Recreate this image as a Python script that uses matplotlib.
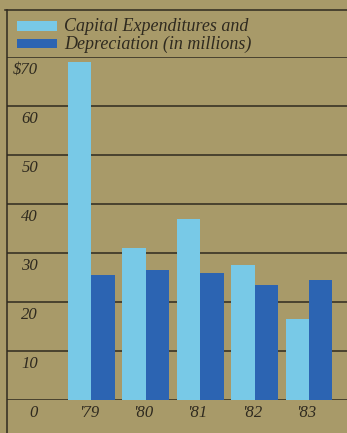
import matplotlib
matplotlib.use("Agg")
import matplotlib.pyplot as plt
from matplotlib.lines import Line2D
from matplotlib.patches import Rectangle

years = ["'79", "'80", "'81", "'82", "'83"]
capital_expenditures = [69, 31, 37, 27.5, 16.5]
depreciation = [25.5, 26.5, 26, 23.5, 24.5]
y_ticks = [0, 10, 20, 30, 40, 50, 60, 70]
y_labels = ["0", "10", "20", "30", "40", "50", "60", "$70"]
legend_labels = ["Capital Expenditures and", "Depreciation (in millions)"]

BG = "#a89a69"
LIGHT = "#78c9e7"
DARK = "#2c64b2"
INK = "#2f2a1f"
W, H = 347, 433

fig = plt.figure(figsize=(W / 100, H / 100), dpi=100, facecolor=BG)

def fx(px):
    return px / W

def fy(py):
    return 1 - py / H

# Plot area: left rule at x=7 px, zero line at y=400 px, $70 line at y=57 px
ax = fig.add_axes([fx(7), fy(400), fx(W - 7), fy(57) - fy(400)])
ax.set_facecolor(BG)
ax.set_ylim(0, 70)
ax.set_xlim(-1.553, 4.70)
for s in ax.spines.values():
    s.set_visible(False)
ax.set_xticks([])
ax.set_yticks([])

x = list(range(len(years)))
bw = 0.43
for v in y_ticks:
    ax.axhline(v, color=INK, lw=1.1, zorder=1)
ax.bar([i - bw / 2 for i in x], capital_expenditures, width=bw,
       color=LIGHT, zorder=2, linewidth=0)
ax.bar([i + bw / 2 for i in x], depreciation, width=bw,
       color=DARK, zorder=2, linewidth=0)

serif = ["Liberation Serif", "DejaVu Serif"]
font = dict(family=serif, style="italic", color=INK)

# y labels sit just below their rules, right-aligned
for v, lab in zip(y_ticks, y_labels):
    ax.annotate(lab, xy=(fx(38), v), xycoords=("figure fraction", "data"),
                xytext=(0, -9.5), textcoords="offset points",
                ha="right", va="center", fontsize=12, **font)

# year labels under the zero line
for i, yr in enumerate(years):
    ax.annotate(yr, xy=(i, 0), xycoords="data", xytext=(-2, -9.5),
                textcoords="offset points", ha="center", va="center",
                fontsize=12, **font)

# outer frame: top rule and left rule
fig.add_artist(Line2D([fx(5), 1], [fy(10), fy(10)], color=INK, lw=1.1))
fig.add_artist(Line2D([fx(7), fx(7)], [fy(10), 0], color=INK, lw=1.1))

# legend key
for (top, bottom), color, label in zip([(21, 31), (39, 48)], [LIGHT, DARK],
                                       legend_labels):
    fig.add_artist(Rectangle((fx(17), fy(bottom)), fx(40),
                             fy(top) - fy(bottom), facecolor=color,
                             edgecolor="none", transform=fig.transFigure))
    fig.text(fx(64), fy((top + bottom) / 2 + 0.5), label, ha="left",
             va="center", fontsize=13, **font)

fig.savefig("out.png", dpi=100, facecolor=BG)
